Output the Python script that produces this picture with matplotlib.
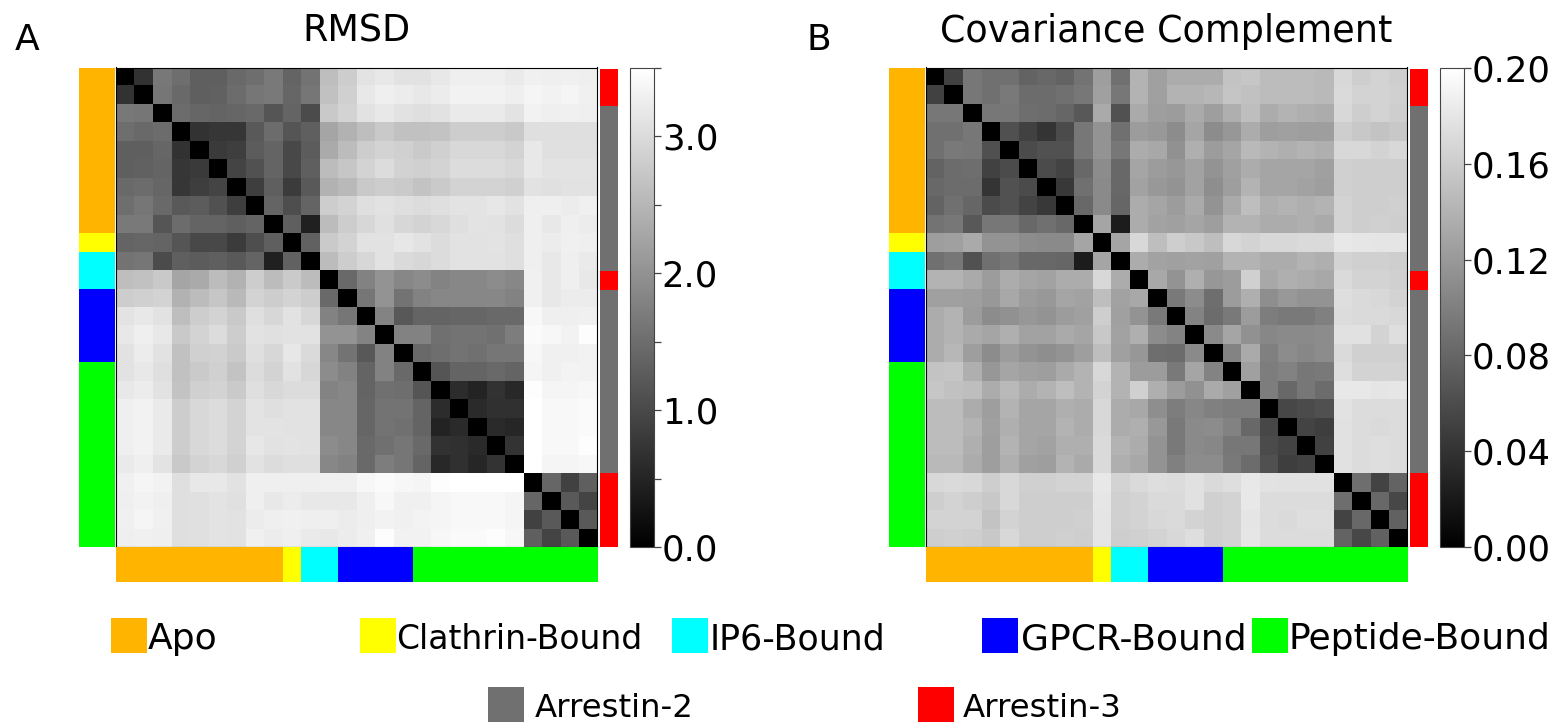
import numpy as np
import matplotlib
matplotlib.use("Agg")
import matplotlib.pyplot as plt
from matplotlib.colors import ListedColormap
from matplotlib.patches import Rectangle
from matplotlib.ticker import MultipleLocator

state_names = ["Apo", "Clathrin-Bound", "IP6-Bound", "GPCR-Bound", "Peptide-Bound"]
state_sizes = [9, 1, 2, 4, 10]
state_colors = ["#ffb500", "#ffff00", "#00ffff", "#0000ff", "#00ff00"]

arrestin_names = ["Arrestin-2", "Arrestin-3"]
arrestin_order = [1, 0, 1, 0, 1]
arrestin_sizes = [2, 9, 1, 10, 4]
arrestin_colors = ["#707070", "#ff0000"]

# upper triangle, each row starts right after the diagonal
rmsd_rows = [
    [.69, 1.65, 1.51, 1.30, 1.30, 1.44, 1.51, 1.67, 1.37, 1.58, 2.61, 2.81, 3.13, 3.18, 3.10, 3.10, 3.18, 3.27, 3.27, 3.27, 3.21, 3.29, 3.27, 3.29, 3.27],
    [1.62, 1.44, 1.30, 1.35, 1.48, 1.62, 1.67, 1.40, 1.62, 2.64, 2.85, 3.18, 3.27, 3.23, 3.18, 3.23, 3.32, 3.32, 3.32, 3.27, 3.35, 3.32, 3.36, 3.29],
    [1.48, 1.40, 1.37, 1.40, 1.44, 1.17, 1.37, 1.03, 2.75, 2.91, 3.09, 3.18, 3.09, 3.05, 3.10, 3.21, 3.21, 3.21, 3.13, 3.32, 3.27, 3.29, 3.27],
    [.69, .75, .75, 1.24, 1.48, 1.17, 1.30, 2.26, 2.44, 2.61, 2.75, 2.64, 2.64, 2.68, 2.81, 2.81, 2.81, 2.75, 3.05, 3.05, 3.05, 3.05],
    [.80, .85, 1.26, 1.37, .99, 1.26, 2.33, 2.58, 2.81, 2.91, 2.85, 2.77, 2.85, 2.96, 2.96, 2.96, 2.91, 3.18, 3.07, 3.07, 3.07],
    [.93, 1.13, 1.37, .99, 1.30, 2.58, 2.72, 2.91, 3.02, 2.88, 2.85, 2.91, 3.02, 3.02, 3.02, 2.96, 3.18, 3.13, 3.13, 3.13],
    [.85, 1.30, .82, 1.24, 2.44, 2.54, 2.75, 2.81, 2.77, 2.69, 2.77, 2.91, 2.91, 2.91, 2.85, 3.10, 3.07, 3.10, 3.10],
    [1.37, 1.07, 1.37, 2.81, 2.91, 3.05, 3.09, 3.05, 3.02, 3.05, 3.13, 3.13, 3.16, 3.10, 3.27, 3.27, 3.24, 3.29],
    [1.30, .44, 2.58, 2.81, 2.95, 3.07, 2.95, 2.91, 2.96, 3.05, 3.13, 3.10, 3.02, 3.27, 3.18, 3.27, 3.24],
    [1.35, 2.77, 2.91, 3.09, 3.09, 3.16, 3.09, 3.02, 3.10, 3.10, 3.13, 3.05, 3.27, 3.24, 3.29, 3.27],
    [2.58, 2.81, 2.95, 3.09, 2.99, 2.95, 3.02, 3.09, 3.10, 3.10, 3.05, 3.27, 3.18, 3.27, 3.21],
    [1.44, 1.78, 2.03, 1.85, 1.92, 1.81, 1.85, 1.85, 1.92, 1.85, 3.29, 3.18, 3.27, 3.18],
    [1.62, 2.03, 1.58, 1.78, 1.85, 1.85, 1.85, 1.85, 1.78, 3.29, 3.18, 3.23, 3.23],
    [1.81, 1.21, 1.37, 1.37, 1.40, 1.40, 1.44, 1.44, 3.38, 3.27, 3.27, 3.29],
    [1.78, 1.78, 1.54, 1.58, 1.58, 1.54, 1.72, 3.43, 3.38, 3.32, 3.46],
    [1.44, 1.51, 1.58, 1.54, 1.62, 1.62, 3.38, 3.29, 3.29, 3.32],
    [1.17, 1.37, 1.37, 1.44, 1.37, 3.36, 3.29, 3.34, 3.32],
    [.62, .48, .69, .55, 3.46, 3.35, 3.35, 3.38],
    [.58, .66, .66, 3.50, 3.40, 3.40, 3.43],
    [.58, .52, 3.50, 3.40, 3.40, 3.43],
    [.71, 3.50, 3.40, 3.40, 3.46],
    [3.50, 3.35, 3.36, 3.38],
    [1.40, .89, 1.30],
    [1.24, .93],
    [1.24],
]

covariance_rows = [
    [.051, .093, .088, .088, .078, .082, .078, .090, .124, .088, .140, .125, .135, .135, .135, .153, .155, .147, .147, .147, .145, .169, .161, .166, .161],
    [.093, .088, .096, .085, .085, .088, .093, .125, .093, .141, .125, .140, .140, .143, .154, .151, .147, .147, .147, .145, .171, .165, .165, .163],
    [.093, .093, .086, .085, .080, .069, .133, .064, .133, .124, .122, .133, .124, .137, .149, .135, .140, .137, .135, .169, .161, .166, .161],
    [.063, .051, .041, .059, .093, .116, .088, .122, .119, .110, .129, .110, .118, .135, .124, .125, .124, .124, .161, .157, .153, .157],
    [.059, .064, .064, .093, .116, .093, .135, .132, .114, .137, .122, .129, .145, .140, .137, .140, .137, .169, .169, .165, .169],
    [.059, .053, .082, .110, .082, .129, .122, .118, .127, .116, .125, .135, .129, .129, .129, .125, .163, .161, .161, .161],
    [.045, .088, .108, .082, .127, .119, .116, .127, .111, .124, .140, .129, .129, .127, .124, .163, .161, .161, .161],
    [.082, .108, .080, .135, .129, .122, .133, .116, .133, .149, .137, .140, .137, .140, .166, .161, .161, .163],
    [.129, .022, .135, .127, .125, .129, .124, .140, .140, .135, .135, .137, .133, .166, .161, .163, .161],
    [.129, .169, .149, .161, .157, .149, .169, .165, .169, .169, .171, .171, .182, .180, .179, .179],
    [.135, .127, .125, .127, .125, .140, .140, .135, .135, .140, .137, .166, .163, .163, .161],
    [.132, .116, .137, .118, .122, .163, .132, .137, .135, .132, .171, .165, .166, .163],
    [.096, .110, .086, .122, .137, .111, .119, .116, .116, .174, .171, .169, .166],
    [.103, .085, .096, .122, .098, .096, .096, .100, .172, .171, .171, .169],
    [.108, .129, .114, .106, .108, .108, .110, .176, .176, .166, .174],
    [.103, .133, .100, .110, .106, .110, .171, .163, .163, .163],
    [.125, .098, .102, .093, .096, .174, .166, .166, .165],
    [.098, .082, .093, .085, .182, .182, .179, .180],
    [.056, .059, .063, .177, .172, .172, .172],
    [.053, .049, .176, .172, .171, .172],
    [.051, .176, .172, .174, .172],
    [.176, .172, .174, .172],
    [.086, .053, .078],
    [.082, .056],
    [.077],
]

W, H = 1562, 728
fig = plt.figure(figsize=(W / 100, H / 100), dpi=100)


def px_axes(x0, y0, x1, y1):
    return fig.add_axes([x0 / W, 1 - y1 / H, (x1 - x0) / W, (y1 - y0) / H])


def to_matrix(rows):
    n = len(rows) + 1
    m = np.zeros((n, n))
    for i, row in enumerate(rows):
        m[i, i + 1:] = row
    return m + m.T


def color_strip(x0, y0, x1, y1, codes, colors, vertical=True):
    ax = px_axes(x0, y0, x1, y1)
    strip = np.array(codes)[:, None] if vertical else np.array(codes)[None, :]
    ax.imshow(strip, cmap=ListedColormap(colors), vmin=0, vmax=len(colors) - 1,
              aspect="auto", interpolation="nearest")
    ax.axis("off")


def panel(x, letter_x, rows, vmax, title, letter, major, minor, fmt):
    ax = px_axes(x + 115.5, 67.5, x + 597, 547)
    im = ax.imshow(to_matrix(rows), cmap="gray", vmin=0, vmax=vmax, aspect="auto",
                   interpolation="nearest")
    ax.set_xticks([])
    ax.set_yticks([])
    ax.set_title(title, fontsize=26.3, pad=18.5)

    state_codes = np.repeat(np.arange(len(state_sizes)), state_sizes)
    arr_codes = np.repeat(arrestin_order, arrestin_sizes)
    color_strip(x + 79, 67.5, x + 115, 547, state_codes, state_colors)
    color_strip(x + 116, 547, x + 597.5, 582, state_codes, state_colors, vertical=False)
    color_strip(x + 600, 69, x + 618, 547, arr_codes, arrestin_colors)

    cax = px_axes(x + 629.5, 68, x + 653.5, 547)
    cb = fig.colorbar(im, cax=cax)
    cb.set_ticks(major)
    cb.set_ticklabels([fmt % v for v in major])
    if minor:
        cax.yaxis.set_minor_locator(MultipleLocator(minor))
    else:
        cax.minorticks_off()
    cax.tick_params(which="both", length=5, width=0.9, color="#444444", labelsize=25.5, pad=1)
    cb.outline.set_edgecolor("#444444")

    fig.text(letter_x / W, 1 - 50 / H, letter, fontsize=26)


panel(0, 15, rmsd_rows, 3.5, "RMSD", "A", [0, 1, 2, 3], 0.5, "%.1f")
panel(810, 806, covariance_rows, 0.2, "Covariance Complement", "B",
      [0, .04, .08, .12, .16, .2], None, "%.2f")

# legend rows, placed by hand like the original figure
legend = fig.add_axes([0, 0, 1, 1], zorder=5)
legend.set_xlim(0, W)
legend.set_ylim(H, 0)
legend.axis("off")
state_patch_x = [111, 360, 672, 982, 1252]
state_text_x = [148, 396, 710, 1021, 1289]
state_font = [26, 23.7, 25, 26, 26]
for name, color, px, tx, fs in zip(state_names, state_colors, state_patch_x, state_text_x, state_font):
    legend.add_patch(Rectangle((px, 618), 36, 35, color=color, lw=0))
    legend.text(tx, 649, name, fontsize=fs, va="baseline")
arrestin_patch_x = [488, 918]
arrestin_text_x = [535, 963]
for name, color, px, tx in zip(arrestin_names, arrestin_colors, arrestin_patch_x, arrestin_text_x):
    legend.add_patch(Rectangle((px, 687), 36, 35, color=color, lw=0))
    legend.text(tx, 717, name, fontsize=23.3, va="baseline")

fig.savefig("out.png", dpi=100)
